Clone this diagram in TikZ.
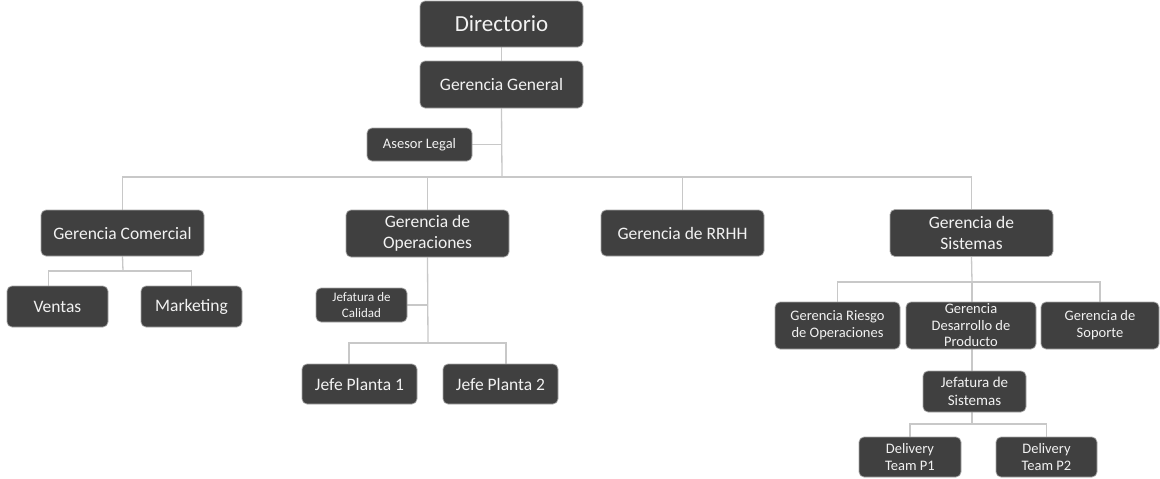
\documentclass[tikz,border=0pt]{standalone}
\usepackage{fontspec}
\setmainfont{Carlito}
\usetikzlibrary{calc}
\definecolor{boxfill}{HTML}{404040}
\definecolor{boxedge}{HTML}{A8A8A8}
\definecolor{linkgray}{HTML}{C8C8C8}
\definecolor{boxtext}{HTML}{F2F2F2}
\pgfdeclarelayer{background}
\pgfsetlayers{background,main}
\begin{document}
\begin{tikzpicture}[x=1pt,y=-1pt,
  box/.style={draw=boxedge, line width=0.7pt, fill=boxfill, rounded corners=5pt,
    text=boxtext, align=center, inner xsep=2pt, inner ysep=0pt, anchor=center},
  link/.style={draw=linkgray, line width=1.3pt},
  fbig/.style={font=\fontsize{23}{27}\selectfont},
  fmid/.style={font=\fontsize{17.5}{21}\selectfont},
  fsmall/.style={font=\fontsize{14.5}{17}\selectfont},
  ftiny/.style={font=\fontsize{13}{16}\selectfont}]
\useasboundingbox (0,0) rectangle (1160,479);

% junction points of the horizontal buses
\coordinate (bus) at (502,177);
\coordinate (opsbus) at (428,343);
\coordinate (sisbus) at (972,282);
\coordinate (delbus) at (972,424);
\coordinate (combus) at (123,271);

% top level
\node[box,fbig,minimum width=163,minimum height=46] (dir) at (501.5,24) {Directorio};
\node[box,fmid,minimum width=163,minimum height=47] (gg) at (501.5,84.5) {Gerencia General};
\node[box,fsmall,minimum width=105,minimum height=33] (al) at (419.5,144.5) {Asesor Legal};

% second level
\node[box,fmid,minimum width=163,minimum height=46] (com) at (122.5,233) {Gerencia Comercial};
\node[box,fmid,minimum width=163,minimum height=47] (ope) at (427.5,233.5) {Gerencia de\\Operaciones};
\node[box,fmid,minimum width=163,minimum height=46] (rrhh) at (682.5,233) {Gerencia de RRHH};
\node[box,fmid,minimum width=163,minimum height=47] (sis) at (971.5,233) {Gerencia de\\Sistemas};

% commercial branch
\node[box,fmid,minimum width=101,minimum height=41] (ven) at (57.5,306.5) {Ventas};
\node[box,fmid,minimum width=101,minimum height=41] (mkt) at (191.5,306.5) {Marketing};

% operations branch
\node[box,ftiny,minimum width=91,minimum height=34] (cal) at (361.5,305) {Jefatura de\\Calidad};
\node[box,fmid,minimum width=115,minimum height=40] (jp1) at (359.5,384) {Jefe Planta 1};
\node[box,fmid,minimum width=115,minimum height=40] (jp2) at (500.5,384) {Jefe Planta 2};

% systems branch
\node[box,fsmall,minimum width=125,minimum height=47] (rie) at (837.5,325.5) {Gerencia Riesgo\\de Operaciones};
\node[box,minimum width=130,minimum height=47,font=\fontsize{14.5}{16.5}\selectfont] (des) at (971,325.5) {Gerencia\\Desarrollo de\\Producto};
\node[box,fsmall,minimum width=118,minimum height=47] (sop) at (1100,325.5) {Gerencia de\\Soporte};
\node[box,font=\fontsize{15}{18.5}\selectfont,minimum width=103,minimum height=41] (js) at (974.5,391.5) {Jefatura de\\Sistemas};
\node[box,fsmall,minimum width=102,minimum height=40] (dp1) at (910,457) {Delivery\\Team P1};
\node[box,fsmall,minimum width=101,minimum height=40] (dp2) at (1046.5,457) {Delivery\\Team P2};

\begin{pgfonlayer}{background}
  % main trunk
  \draw[link] (dir.south) -- (gg.north);
  \draw[link] (gg.south) -- (bus);
  \draw[link] (al.east) -- (al.east -| bus);
  \draw[link] (com.north) |- (bus) -| (sis.north);
  \draw[link] (ope.north) -- (ope.north |- bus);
  \draw[link] (rrhh.north) -- (rrhh.north |- bus);
  % commercial
  \draw[link] (com.south) -- (combus);
  \draw[link] ($(ven.north)+(-9,0)$) |- (combus) -| (mkt.north);
  % operations
  \draw[link] (ope.south) -- (opsbus);
  \draw[link] (cal.east) -- (cal.east -| opsbus);
  \draw[link] ($(jp1.north)+(-10.5,0)$) |- (opsbus) -| ($(jp2.north)+(5.5,0)$);
  % systems
  \draw[link] (sis.south) -- (sisbus);
  \draw[link] (rie.north) |- (sisbus) -| (sop.north);
  \draw[link] (sisbus) -- (sisbus |- des.north);
  \draw[link] (des.south -| delbus) -- (delbus |- js.north);
  \draw[link] (delbus |- js.south) -- (delbus);
  \draw[link] (dp1.north) |- (delbus) -| (dp2.north);
\end{pgfonlayer}
\end{tikzpicture}
\end{document}
